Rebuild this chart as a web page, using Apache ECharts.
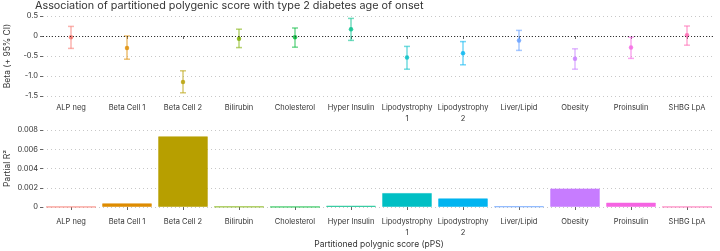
<!DOCTYPE html>
<html>
<head>
<meta charset="utf-8">
<script src="https://cdn.jsdelivr.net/npm/echarts@6/dist/echarts.min.js"></script>
<style>
  html, body { margin: 0; padding: 0; background: #fff; }
  #chart { width: 720px; height: 251px; }
</style>
</head>
<body>
<div id="chart"></div>
<script>
// partitioned polygenic score categories
var categories = ['ALP neg', 'Beta Cell 1', 'Beta Cell 2', 'Bilirubin', 'Cholesterol', 'Hyper Insulin',
  'Lipodystrophy\n1', 'Lipodystrophy\n2', 'Liver/Lipid', 'Obesity', 'Proinsulin', 'SHBG LpA'];

// beta and 95% CI (top panel)
var beta  = [-0.03, -0.30, -1.15, -0.07, -0.03, 0.17, -0.54, -0.43, -0.11, -0.57, -0.29, 0.02];
var ciLow = [-0.31, -0.58, -1.42, -0.29, -0.28, -0.11, -0.83, -0.72, -0.36, -0.83, -0.56, -0.23];
var ciHigh = [0.24, 0.00, -0.87, 0.17, 0.20, 0.44, -0.26, -0.14, 0.14, -0.32, -0.03, 0.25];

// partial R2 (bottom panel)
var partialR2 = [0.00001, 0.00039, 0.00735, 0.00003, 0.00001, 0.00014, 0.00146, 0.0009, 0.00006, 0.00193, 0.00046, 0.00001];

var colors = ['#F8766D', '#DE8C00', '#B79F00', '#7CAE00', '#00BA38', '#00C08B',
  '#00BFC4', '#00B4F0', '#619CFF', '#C77CFF', '#F564E3', '#FF64B0'];

function fade(hex, a) {
  var n = parseInt(hex.slice(1), 16);
  return 'rgba(' + (n >> 16) + ',' + ((n >> 8) & 255) + ',' + (n & 255) + ',' + a + ')';
}

var font = 'Inter';
var txt = '#333';

var chart = echarts.init(document.getElementById('chart'));

var xCommon = {
  type: 'category',
  data: categories,
  axisLine: { show: false },
  axisTick: { show: true, length: 3, alignWithLabel: true, lineStyle: { color: '#666' } },
  axisLabel: { color: txt, fontFamily: font, fontSize: 7.5, margin: 5, lineHeight: 11, interval: 0 },
  splitLine: { show: false }
};

var yCommon = {
  type: 'value',
  axisLine: { show: false },
  axisTick: { show: true, length: 3, lineStyle: { color: '#666' } },
  nameLocation: 'middle',
  nameMoveOverlap: false,
  nameTextStyle: { color: txt, fontFamily: font, fontSize: 8.5 },
  splitLine: { show: true, lineStyle: { color: '#c8c8c8', type: [1, 3], width: 1 } }
};

var option = {
  animation: false,
  title: {
    text: 'Association of partitioned polygenic score with type 2 diabetes age of onset',
    left: 35, top: 0, padding: 0,
    textStyle: { color: txt, fontFamily: font, fontSize: 10.8, fontWeight: 'normal' }
  },
  grid: [
    { left: 43, top: 16, width: 672, height: 80, outerBoundsMode: 'none' },
    { left: 43, top: 130, width: 672, height: 77, outerBoundsMode: 'none' }
  ],
  xAxis: [
    Object.assign({}, xCommon, { gridIndex: 0, offset: 1 }),
    Object.assign({}, xCommon, { gridIndex: 1, offset: 4,
      name: 'Partitioned polygnic score (pPS)',
      nameLocation: 'middle', nameGap: 29, nameMoveOverlap: false,
      nameTextStyle: { color: txt, fontFamily: font, fontSize: 8.5 } })
  ],
  yAxis: [
    Object.assign({}, yCommon, {
      gridIndex: 0, min: -1.5, max: 0.5, interval: 0.5,
      name: 'Beta (+ 95% CI)', nameGap: 31,
      axisLabel: { color: txt, fontFamily: font, fontSize: 7.5, margin: 5,
        formatter: function (v) { return v === 0 ? '0' : v.toFixed(1); } }
    }),
    Object.assign({}, yCommon, {
      gridIndex: 1, min: 0, max: 0.008, interval: 0.002,
      name: 'Partial R\u00B2', nameGap: 31,
      axisLabel: { color: txt, fontFamily: font, fontSize: 7.5, margin: 5,
        formatter: function (v) { return v === 0 ? '0' : v.toFixed(3); } }
    })
  ],
  series: [
    {
      // zero reference line
      type: 'line', xAxisIndex: 0, yAxisIndex: 0, data: [],
      markLine: {
        silent: true, symbol: 'none', label: { show: false },
        lineStyle: { color: '#333', type: [1, 2], width: 1 },
        data: [{ yAxis: 0 }]
      }
    },
    {
      type: 'custom', xAxisIndex: 0, yAxisIndex: 0,
      data: categories.map(function (c, i) { return [i, ciLow[i], ciHigh[i]]; }),
      renderItem: function (params, api) {
        var i = api.value(0);
        var lo = api.coord([i, api.value(1)]);
        var hi = api.coord([i, api.value(2)]);
        var w = 3;
        var style = { stroke: fade(colors[i], 0.55), lineWidth: 1.5 };
        return {
          type: 'group',
          children: [
            { type: 'line', shape: { x1: lo[0], y1: lo[1], x2: hi[0], y2: hi[1] }, style: style },
            { type: 'line', shape: { x1: lo[0] - w, y1: lo[1], x2: lo[0] + w, y2: lo[1] }, style: style },
            { type: 'line', shape: { x1: hi[0] - w, y1: hi[1], x2: hi[0] + w, y2: hi[1] }, style: style }
          ]
        };
      }
    },
    {
      type: 'scatter', xAxisIndex: 0, yAxisIndex: 0,
      symbol: 'circle', symbolSize: 4.5,
      data: beta.map(function (v, i) { return { value: v, itemStyle: { color: colors[i] } }; })
    },
    {
      type: 'bar', xAxisIndex: 1, yAxisIndex: 1,
      barCategoryGap: '11%',
      data: partialR2.map(function (v, i) {
        return { value: v, itemStyle: { color: colors[i], borderColor: fade(colors[i], 0.55), borderWidth: 1 } };
      })
    }
  ]
};

chart.setOption(option);
</script>
</body>
</html>
